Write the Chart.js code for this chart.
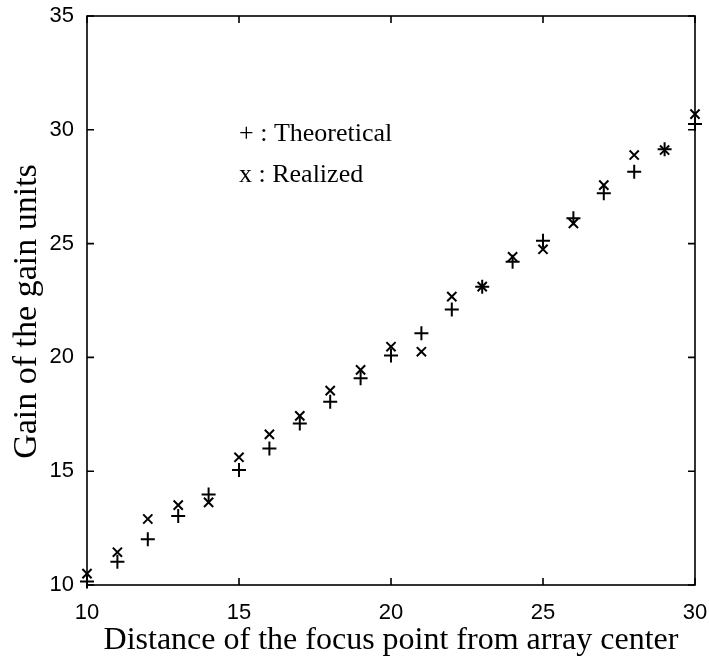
<!DOCTYPE html>
<html>
<head>
<meta charset="utf-8">
<script src="https://cdn.jsdelivr.net/npm/chart.js@4/dist/chart.umd.min.js"></script>
<style>
  html, body { margin: 0; padding: 0; background: #fff; }
</style>
</head>
<body>
<canvas id="gain-chart" width="709" height="660"></canvas>
<script>
// Data
const distances = [10, 11, 12, 13, 14, 15, 16, 17, 18, 19, 20, 21, 22, 23, 24, 25, 26, 27, 28, 29, 30];
const theoretical = [10.15, 11.02, 12.01, 13.03, 13.98, 15.05, 16.0, 17.1, 18.05, 19.08, 20.08, 21.06, 22.1, 23.1, 24.2, 25.13, 26.11, 27.21, 28.16, 29.15, 30.25];
const realized = [10.5, 11.44, 12.9, 13.51, 13.63, 15.61, 16.62, 17.43, 18.54, 19.45, 20.47, 20.25, 22.67, 23.11, 24.42, 24.75, 25.89, 27.57, 28.89, 29.11, 30.69];
const xTicks = [10, 15, 20, 25, 30];
const yTicks = [10, 15, 20, 25, 30, 35];
const legendLines = ['+ : Theoretical', 'x : Realized'];
const yTitle = 'Gain of the gain units';

const toPoints = (xs, ys) => xs.map((x, i) => ({ x: x, y: ys[i] }));

const serif = '"Liberation Serif", "Times New Roman", serif';

// Box around the plot with inward ticks, the y title and the text legend
const framePlugin = {
    id: 'frame',
    afterDraw(chart) {
        const ctx = chart.ctx;
        const area = chart.chartArea;
        const xs = chart.scales.x;
        const ys = chart.scales.y;
        const tick = 7;
        ctx.save();
        ctx.strokeStyle = '#000';
        ctx.lineWidth = 1.6;
        ctx.strokeRect(area.left, area.top, area.right - area.left, area.bottom - area.top);
        ctx.beginPath();
        xTicks.forEach(v => {
            const px = xs.getPixelForValue(v);
            ctx.moveTo(px, area.bottom);
            ctx.lineTo(px, area.bottom - tick);
            ctx.moveTo(px, area.top);
            ctx.lineTo(px, area.top + tick);
        });
        yTicks.forEach(v => {
            const py = ys.getPixelForValue(v);
            ctx.moveTo(area.left, py);
            ctx.lineTo(area.left + tick, py);
            ctx.moveTo(area.right, py);
            ctx.lineTo(area.right - tick, py);
        });
        ctx.stroke();

        ctx.fillStyle = '#000';
        ctx.font = '26px ' + serif;
        ctx.textBaseline = 'middle';
        ctx.textAlign = 'left';
        ctx.fillText(legendLines[0], 239, 134);
        ctx.fillText(legendLines[1], 239, 175);

        // y title, slightly below the plot centre as in the original
        ctx.translate(36, (area.top + area.bottom) / 2 + 11);
        ctx.rotate(-Math.PI / 2);
        ctx.font = '34px ' + serif;
        ctx.textAlign = 'center';
        ctx.textBaseline = 'alphabetic';
        ctx.fillText(yTitle, 0, 0);
        ctx.restore();
    }
};

const tickFont = { family: '"Liberation Sans", Arial, sans-serif', size: 22 };

const gainChart = new Chart(document.getElementById('gain-chart').getContext('2d'), {
    type: 'scatter',
    data: {
        datasets: [
            {
                label: 'Theoretical',
                data: toPoints(distances, theoretical),
                pointStyle: 'cross',
                pointRadius: 7,
                pointBorderWidth: 2,
                borderColor: '#000',
                backgroundColor: '#000',
                clip: false
            },
            {
                label: 'Realized',
                data: toPoints(distances, realized),
                pointStyle: 'crossRot',
                pointRadius: 6.5,
                pointBorderWidth: 2,
                borderColor: '#000',
                backgroundColor: '#000',
                clip: false
            }
        ]
    },
    options: {
        responsive: false,
        animation: false,
        devicePixelRatio: 1,
        layout: { padding: { left: 0, right: 14, top: 16, bottom: 0 } },
        plugins: {
            legend: { display: false },
            tooltip: { enabled: false }
        },
        scales: {
            x: {
                type: 'linear',
                min: 10,
                max: 30,
                afterBuildTicks: s => { s.ticks = xTicks.map(v => ({ value: v })); },
                afterFit: s => { s.height = 75; s.paddingLeft = 0; s.paddingRight = 0; },
                grid: { display: false, drawTicks: false },
                border: { display: false },
                ticks: { color: '#000', font: tickFont, padding: 15 },
                title: {
                    display: true,
                    text: 'Distance of the focus point from array center',
                    color: '#000',
                    font: { family: serif, size: 32 },
                    padding: { top: 0, bottom: 0 }
                }
            },
            y: {
                type: 'linear',
                min: 10,
                max: 35,
                afterBuildTicks: s => { s.ticks = yTicks.map(v => ({ value: v })); },
                afterFit: s => { s.width = 87; s.paddingTop = 0; s.paddingBottom = 0; },
                grid: { display: false, drawTicks: false },
                border: { display: false },
                ticks: { color: '#000', font: tickFont, padding: 13 },
                title: { display: false }
            }
        }
    },
    plugins: [framePlugin]
});
</script>
</body>
</html>
